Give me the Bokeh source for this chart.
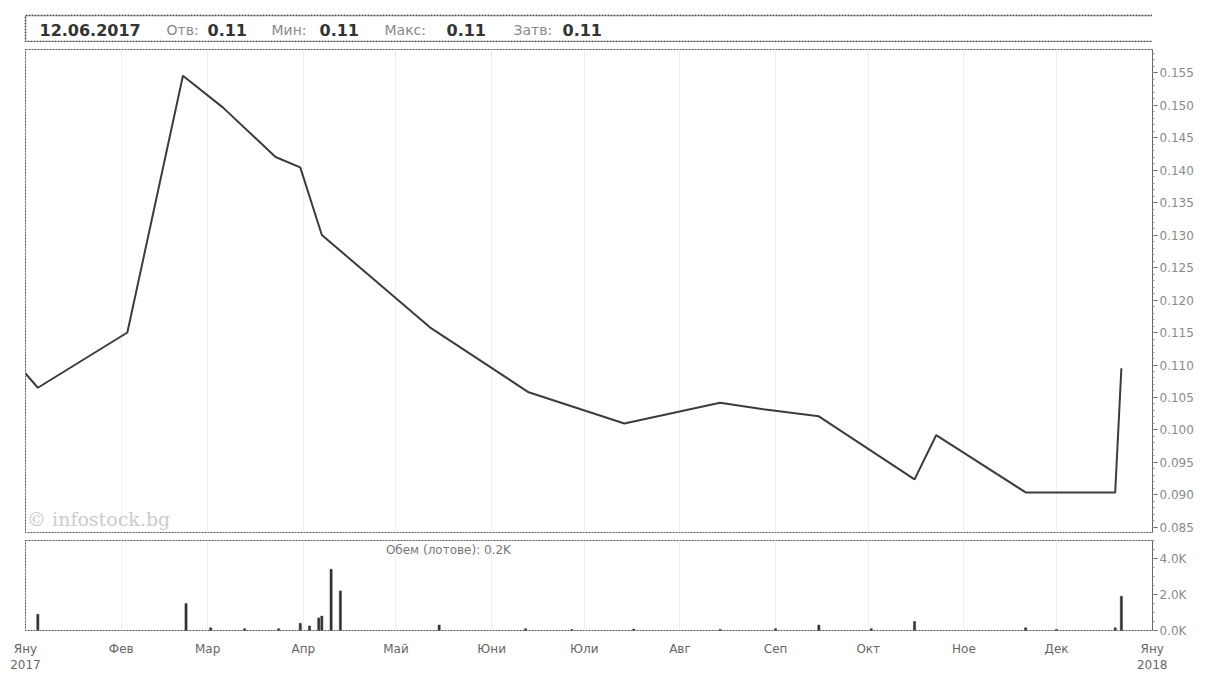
import numpy as np
import pandas as pd
from bokeh.plotting import figure
from bokeh.layouts import column
from bokeh.models import FixedTicker, Range1d, Label, NumeralTickFormatter
from bokeh.core.properties import value
from bokeh.embed import file_html
from bokeh.resources import INLINE

# ---------------- data ----------------
price_dates = ["2017-01-01", "2017-01-05", "2017-02-03", "2017-02-21", "2017-03-06",
               "2017-03-23", "2017-03-31", "2017-04-07", "2017-05-12", "2017-06-13",
               "2017-07-14", "2017-08-14", "2017-08-28", "2017-09-15", "2017-10-16",
               "2017-10-23", "2017-11-21", "2017-12-20", "2017-12-22"]
price_values = [0.1087, 0.1065, 0.1150, 0.1545, 0.1496,
                0.1420, 0.1404, 0.1300, 0.1158, 0.1058,
                0.1010, 0.1042, 0.1032, 0.1021, 0.0924,
                0.0992, 0.0904, 0.0904, 0.1095]

vol_dates = ["2017-01-05", "2017-02-22", "2017-03-02", "2017-03-13", "2017-03-24",
             "2017-03-31", "2017-04-03", "2017-04-06", "2017-04-07", "2017-04-10",
             "2017-04-13", "2017-05-15", "2017-06-12", "2017-06-27", "2017-07-17",
             "2017-08-14", "2017-09-01", "2017-09-15", "2017-10-02", "2017-10-16",
             "2017-11-21", "2017-12-01", "2017-12-20", "2017-12-22"]
vol_values = [900, 1500, 150, 100, 100,
              400, 250, 700, 800, 3400,
              2200, 300, 100, 50, 80,
              50, 100, 300, 100, 500,
              150, 60, 150, 1900]

month_labels = ["Яну\n2017", "Фев", "Мар", "Апр", "Май", "Юни", "Юли",
                "Авг", "Сеп", "Окт", "Ное", "Дек", "Яну\n2018"]
price_ticks = [0.085, 0.090, 0.095, 0.100, 0.105, 0.110, 0.115, 0.120,
               0.125, 0.130, 0.135, 0.140, 0.145, 0.150, 0.155]
vol_ticks = [0, 2000, 4000]
vol_tick_labels = ["0.0K", "2.0K", "4.0K"]

header_bold = ["12.06.2017", "0.11", "0.11", "0.11", "0.11"]
header_names = ["Отв:", "Мин:", "Макс:", "Затв:"]
volume_caption = "Обем (лотове): 0.2K"
watermark = "© infostock.bg"

# ---------------- helpers ----------------
FONT = "DejaVu Sans"
month_starts = pd.date_range("2017-01-01", periods=len(month_labels), freq="MS")
month_ms = [float(t.value // 10**6) for t in month_starts]
x_start = month_starts[0]
x_end = month_starts[-1] + pd.Timedelta(hours=2)

FRAME_W = 1127
LEFT = 25
H_LEFT = 20

px = pd.to_datetime(price_dates)
vx = pd.to_datetime(vol_dates)

# ---------------- header ----------------
HW = LEFT + FRAME_W - H_LEFT
h = figure(frame_width=HW, frame_height=27, x_range=Range1d(0, HW),
           y_range=Range1d(0, 1), toolbar_location=None, output_backend="svg",
           x_axis_location=None, y_axis_location=None,
           min_border_left=H_LEFT, min_border_right=0, min_border_top=15, min_border_bottom=0)
h.xgrid.visible = False
h.ygrid.visible = False
h.outline_line_color = "#444444"
h.outline_line_dash = "2 1"
h.outline_line_width = 1.5
bold_x = [14, 182, 294, 421, 537]
name_x = [141, 246, 359, 488]
h.text(x=bold_x, y=[0.45] * len(bold_x), text=header_bold, text_font=value(FONT),
       text_font_style="bold", text_font_size="16px", text_color="#333333",
       text_baseline="middle", text_align="left")
h.text(x=name_x, y=[0.45] * len(name_x), text=header_names, text_font=value(FONT),
       text_font_size="14px", text_color="#8a8a8a",
       text_baseline="middle", text_align="left")

# ---------------- price ----------------
p = figure(frame_width=FRAME_W, frame_height=483, x_axis_type="datetime",
           x_range=Range1d(x_start, x_end), y_range=Range1d(0.08423, 0.15854),
           toolbar_location=None, output_backend="svg",
           x_axis_location=None, y_axis_location="right",
           min_border_left=LEFT, min_border_right=0, min_border_top=7, min_border_bottom=3)
p.xgrid.ticker = FixedTicker(ticks=month_ms)
p.xgrid.grid_line_color = "#eeeeee"
p.ygrid.grid_line_color = None
p.outline_line_color = "#555555"
p.outline_line_dash = "2 1"
minor_p = list(np.round(np.arange(0.084, 0.1586, 0.001), 3))
p.yaxis.ticker = FixedTicker(ticks=price_ticks, minor_ticks=minor_p)
p.yaxis.formatter = NumeralTickFormatter(format="0.000")
ax = p.yaxis[0]
ax.axis_line_color = "#666666"
ax.major_tick_line_color = "#666666"
ax.minor_tick_line_color = "#999999"
ax.major_tick_in = 0
ax.major_tick_out = 5
ax.minor_tick_in = 0
ax.minor_tick_out = 2
ax.major_label_standoff = 2
ax.major_label_text_font = FONT
ax.major_label_text_font_size = "12px"
ax.major_label_text_color = "#8a8a8a"

p.line(x=px, y=price_values, line_color="#3c3c3c", line_width=2)

p.add_layout(Label(x=pd.Timestamp("2017-01-01 12:00"), y=0.0846, text=watermark,
                   text_font="DejaVu Serif", text_font_size="19px",
                   text_color="#cccccc", text_baseline="bottom"))

# ---------------- volume ----------------
v = figure(frame_width=FRAME_W, frame_height=90, x_axis_type="datetime",
           x_range=p.x_range, y_range=Range1d(0, 5000),
           toolbar_location=None, output_backend="svg",
           y_axis_location="right",
           min_border_left=LEFT, min_border_right=0, min_border_top=5, min_border_bottom=3)
v.xgrid.ticker = FixedTicker(ticks=month_ms)
v.xgrid.grid_line_color = "#eeeeee"
v.ygrid.grid_line_color = None
v.outline_line_color = "#555555"
v.outline_line_dash = "2 1"

v.xaxis.ticker = FixedTicker(ticks=month_ms)
v.xaxis.major_label_overrides = {m: lab for m, lab in zip(month_ms, month_labels)}
v.xaxis.axis_line_color = None
v.xaxis.major_tick_line_color = None
v.xaxis.minor_tick_line_color = None
v.xaxis.major_label_standoff = 5
v.xaxis.major_label_text_font = FONT
v.xaxis.major_label_text_font_size = "12px"
v.xaxis.major_label_text_color = "#666666"

v.yaxis.ticker = FixedTicker(ticks=vol_ticks, minor_ticks=list(range(0, 5001, 500)))
v.yaxis.major_label_overrides = {t: lab for t, lab in zip(vol_ticks, vol_tick_labels)}
ay = v.yaxis[0]
ay.axis_line_color = "#666666"
ay.major_tick_line_color = "#666666"
ay.minor_tick_line_color = "#999999"
ay.major_tick_in = 0
ay.major_tick_out = 5
ay.minor_tick_in = 0
ay.minor_tick_out = 2
ay.major_label_standoff = 2
ay.major_label_text_font = FONT
ay.major_label_text_font_size = "12px"
ay.major_label_text_color = "#8a8a8a"

v.vbar(x=vx, top=vol_values, width=0.7 * 24 * 3600 * 1000, bottom=0,
       fill_color="#333333", line_color="#333333", line_width=0.5)

v.add_layout(Label(x=pd.Timestamp("2017-05-18"), y=4500, text=volume_caption,
                   text_font=FONT, text_font_size="12px", text_color="#777777",
                   text_align="center", text_baseline="middle"))

layout = column(h, p, v, spacing=0)
open("out.html", "w").write(file_html(layout, INLINE))
